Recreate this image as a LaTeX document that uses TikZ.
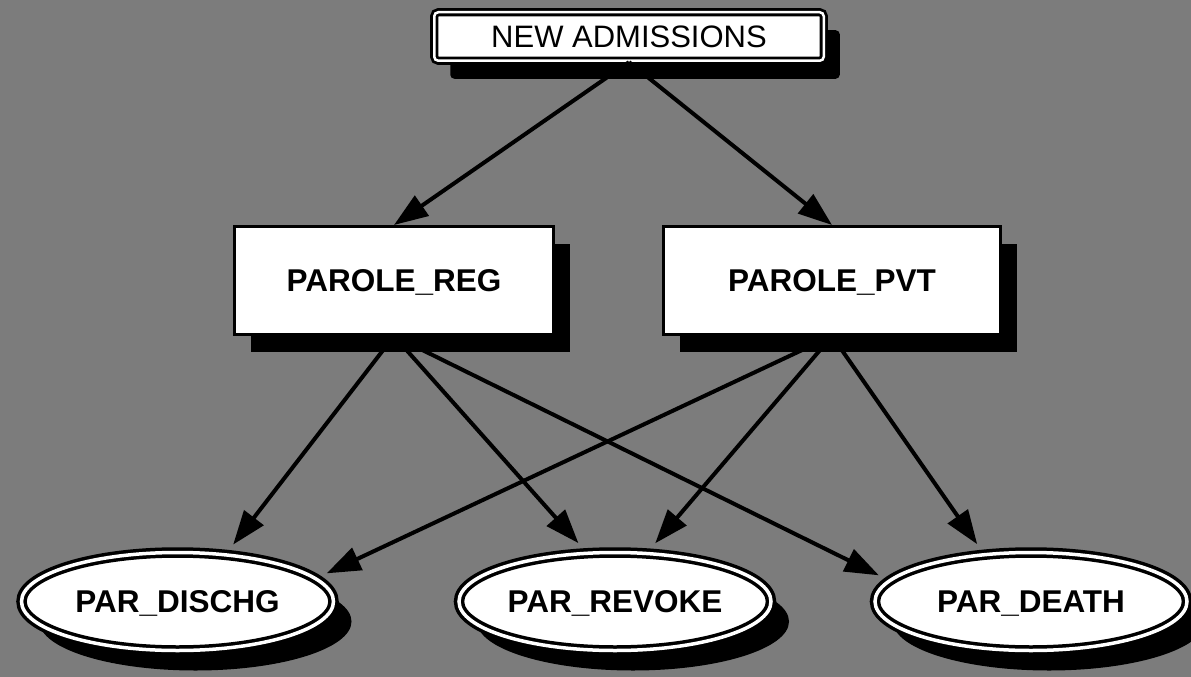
\documentclass[tikz,border=0pt]{standalone}
\usepackage{fontspec}
\setmainfont{Liberation Sans}
\usetikzlibrary{arrows.meta,shapes.geometric,shadows}

\definecolor{paper}{HTML}{7C7C7C}

\begin{document}
\begin{tikzpicture}[x=1pt,y=-1pt,
  labelfont/.style={font=\fontsize{31.5}{36}\selectfont\bfseries,
    text height=22.5pt, text depth=0pt},
  sourcebox/.style={draw=black, fill=white, line width=2.8pt, double=white,
    double distance=2.5pt, rounded corners=4pt, inner sep=0pt,
    font=\fontsize{31}{36}\selectfont, text height=22.5pt, text depth=0pt,
    minimum width=389.5pt, minimum height=48.5pt,
    drop shadow={shadow xshift=16pt, shadow yshift=-18pt, fill=black, opacity=1}},
  statebox/.style={draw=black, fill=white, line width=3pt, inner sep=0pt,
    labelfont, minimum height=108pt,
    drop shadow={shadow xshift=16pt, shadow yshift=-17pt, fill=black, opacity=1}},
  outcome/.style={ellipse, draw=black, fill=white, line width=3.5pt,
    double=white, double distance=3.5pt, inner sep=0pt, outer sep=5.25pt,
    labelfont, minimum width=312pt, minimum height=98pt,
    drop shadow={shadow xshift=18pt, shadow yshift=-20pt, fill=black, opacity=1}},
  flow/.style={draw=black, line width=4pt,
    -{Triangle[length=34pt, width=24pt]}},
  toend/.style={flow, shorten >=7pt}
]
  % halftone-grey sheet
  \fill[paper] (0,0) rectangle (1191,677);
  \useasboundingbox (0,0) rectangle (1191,677);

  % nodes
  \node[sourcebox] (adm) at (629,36.5) {NEW ADMISSIONS};

  \node[statebox, minimum width=319pt] (reg) at (394,280.5) {PAROLE\_REG};
  \node[statebox, minimum width=337pt] (pvt) at (832,280.5) {PAROLE\_PVT};

  \node[outcome] (dischg) at (177.5,601.5) {PAR\_DISCHG};
  \node[outcome] (revoke) at (615,601.5) {PAR\_REVOKE};
  \node[outcome] (death)  at (1031,601.5) {PAR\_DEATH};

  % transitions
  \draw[flow] (adm.south) -- (reg.north);
  \draw[flow] (adm.south) -- (pvt.north);

  \draw[toend] (reg.south) -- (dischg.45);
  \draw[toend] (reg.south) -- (revoke.121);
  \draw[toend] (reg.south) -- (death.171);

  \draw[toend] (pvt.south) -- (dischg.10);
  \draw[toend] (pvt.south) -- (revoke.56);
  \draw[toend] (pvt.south) -- (death.134);
\end{tikzpicture}
\end{document}
